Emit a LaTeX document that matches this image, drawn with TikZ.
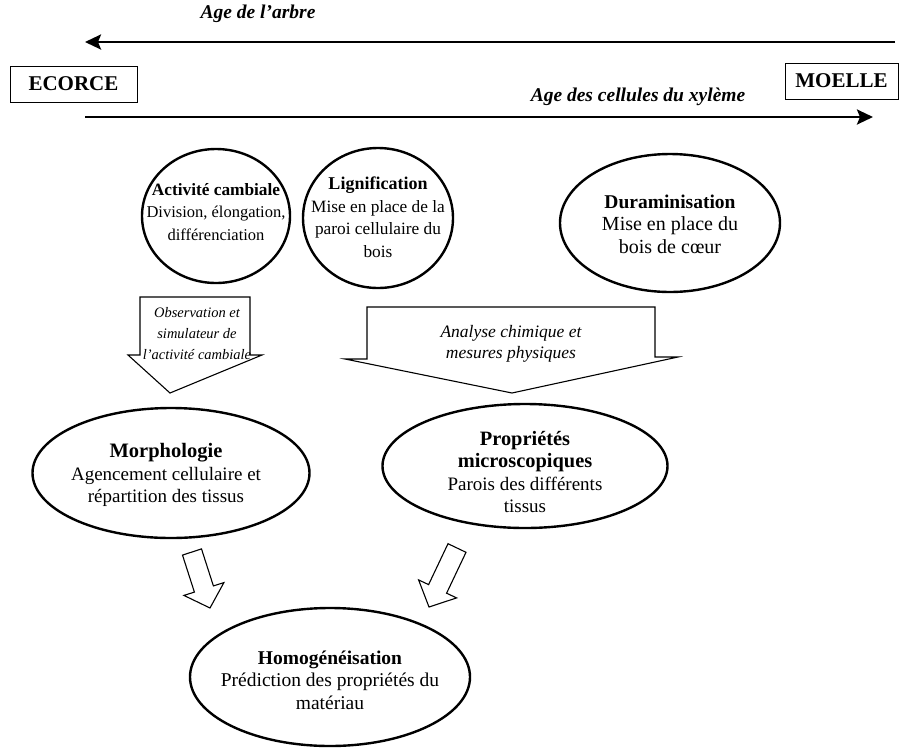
\documentclass[tikz,border=0pt]{standalone}
\usepackage{fontspec}
\setmainfont{Liberation Serif}
\usetikzlibrary{shapes.geometric,arrows.meta}

% bold heading line inside a bubble, with its own size
\newcommand\headline[2]{{\bfseries\fontsize{#1}{22.5}\selectfont #2}}

\tikzset{
  bubble/.style={ellipse, draw, line width=2.4pt, inner sep=0pt},
  bubbletext/.style={align=center, inner sep=0pt, font=\fontsize{#1}{22.5}\selectfont},
  bubbletext/.default=19,
  tag/.style={draw, line width=1pt, inner sep=0pt, font=\bfseries\fontsize{21}{24}\selectfont},
  agelabel/.style={font=\bfseries\itshape\fontsize{19.5}{22}\selectfont},
  timeline/.style={line width=2.6pt, -{Stealth[length=16pt, width=15pt, inset=3pt]}},
  blockarrow/.style={draw, line width=1.1pt, fill=white, line join=miter},
  smallarrow/.style={draw, line width=1.1pt, fill=white},
  method/.style={font=\itshape\fontsize{#1}{21}\selectfont, align=center, inner sep=0pt}
}

\begin{document}
\begin{tikzpicture}[x=1pt, y=-1pt]
  \useasboundingbox (0,0) rectangle (903,748);

  % bark and pith labels
  \node[tag, minimum width=127pt, minimum height=36pt] (ecorce) at (73.5,84) {ECORCE};
  \node[tag, minimum width=113pt, minimum height=36pt] (moelle) at (841.5,81) {MOELLE};

  % the two time axes
  \coordinate (treeR) at (895,42);
  \coordinate (treeL) at (85,42);
  \coordinate (cellL) at (85,117);
  \coordinate (cellR) at (873,117);
  \draw[timeline] (treeR) -- (treeL);
  \draw[timeline] (cellL) -- (cellR);
  \node[agelabel] (agetree) at (258,14) {Age de l'arbre};
  \node[agelabel] (agecell) at (638,97) {Age des cellules du xylème};

  % processes
  \node[bubble, minimum width=148pt, minimum height=134pt] (cambium) at (216,216) {};
  \node[bubbletext=16.5] (cambiumtxt) at (216,212)
    {\headline{17.3}{Activité cambiale}\\Division, élongation,\\différenciation};
  \node[bubble, minimum width=150pt, minimum height=140pt] (lignin) at (378,218) {};
  \node[bubbletext=17.3] (lignintxt) at (378,217)
    {\headline{18}{Lignification}\\Mise en place de la\\paroi cellulaire du\\bois};
  \node[bubble, minimum width=220pt, minimum height=138pt] (heartwood) at (670,223) {};
  \node[bubbletext=20] (heartwoodtxt) at (670,224)
    {\headline{19.5}{Duraminisation}\\Mise en place du\\bois de c\oe ur};

  % structural levels
  \node[bubble, minimum width=277pt, minimum height=130pt] (morpho) at (171,473) {};
  \node[bubbletext=19] (morphotxt) at (166,475)
    {\headline{20.5}{Morphologie}\\Agencement cellulaire et\\répartition des tissus};
  \node[bubble, minimum width=285pt, minimum height=124pt] (micro) at (525,466) {};
  \node[bubbletext=19] (microtxt) at (525,472)
    {\headline{20.4}{Propriétés}\\\headline{20.4}{microscopiques}\\Parois des différents\\tissus};
  \node[bubble, minimum width=280pt, minimum height=138pt] (homog) at (330,677) {};
  \node[bubbletext=19.5] (homogtxt) at (330,680)
    {\headline{19.5}{Homogénéisation}\\Prédiction des propriétés du\\matériau};

  % method arrows
  \draw[blockarrow] (140,297) -- (250,297) -- (250,355) -- (262,355) -- (170,393)
    -- (128,355) -- (140,355) -- cycle;
  \node[method=14.5] (observ) at (197,334)
    {Observation et\\simulateur de\\l'activité cambiale};

  \draw[blockarrow] (367,307) -- (655,307) -- (655,357) -- (678,357) -- (512,393)
    -- (345,359) -- (367,359) -- cycle;
  \node[method=17.5] (analyse) at (511,344) {Analyse chimique et\\mesures physiques};

  % convergence towards the homogenised material
  \draw[smallarrow] (201.5,548.9) -- (213.4,585.9) -- (223.9,582.6) -- (210,608)
    -- (183.9,595.4) -- (194.4,592.1) -- (182.5,555.1) -- cycle;
  \draw[smallarrow] (466.0,552.3) -- (446.6,593.2) -- (456.6,597.9) -- (429,607)
    -- (418.6,579.9) -- (428.6,584.6) -- (448.0,543.7) -- cycle;
\end{tikzpicture}
\end{document}
